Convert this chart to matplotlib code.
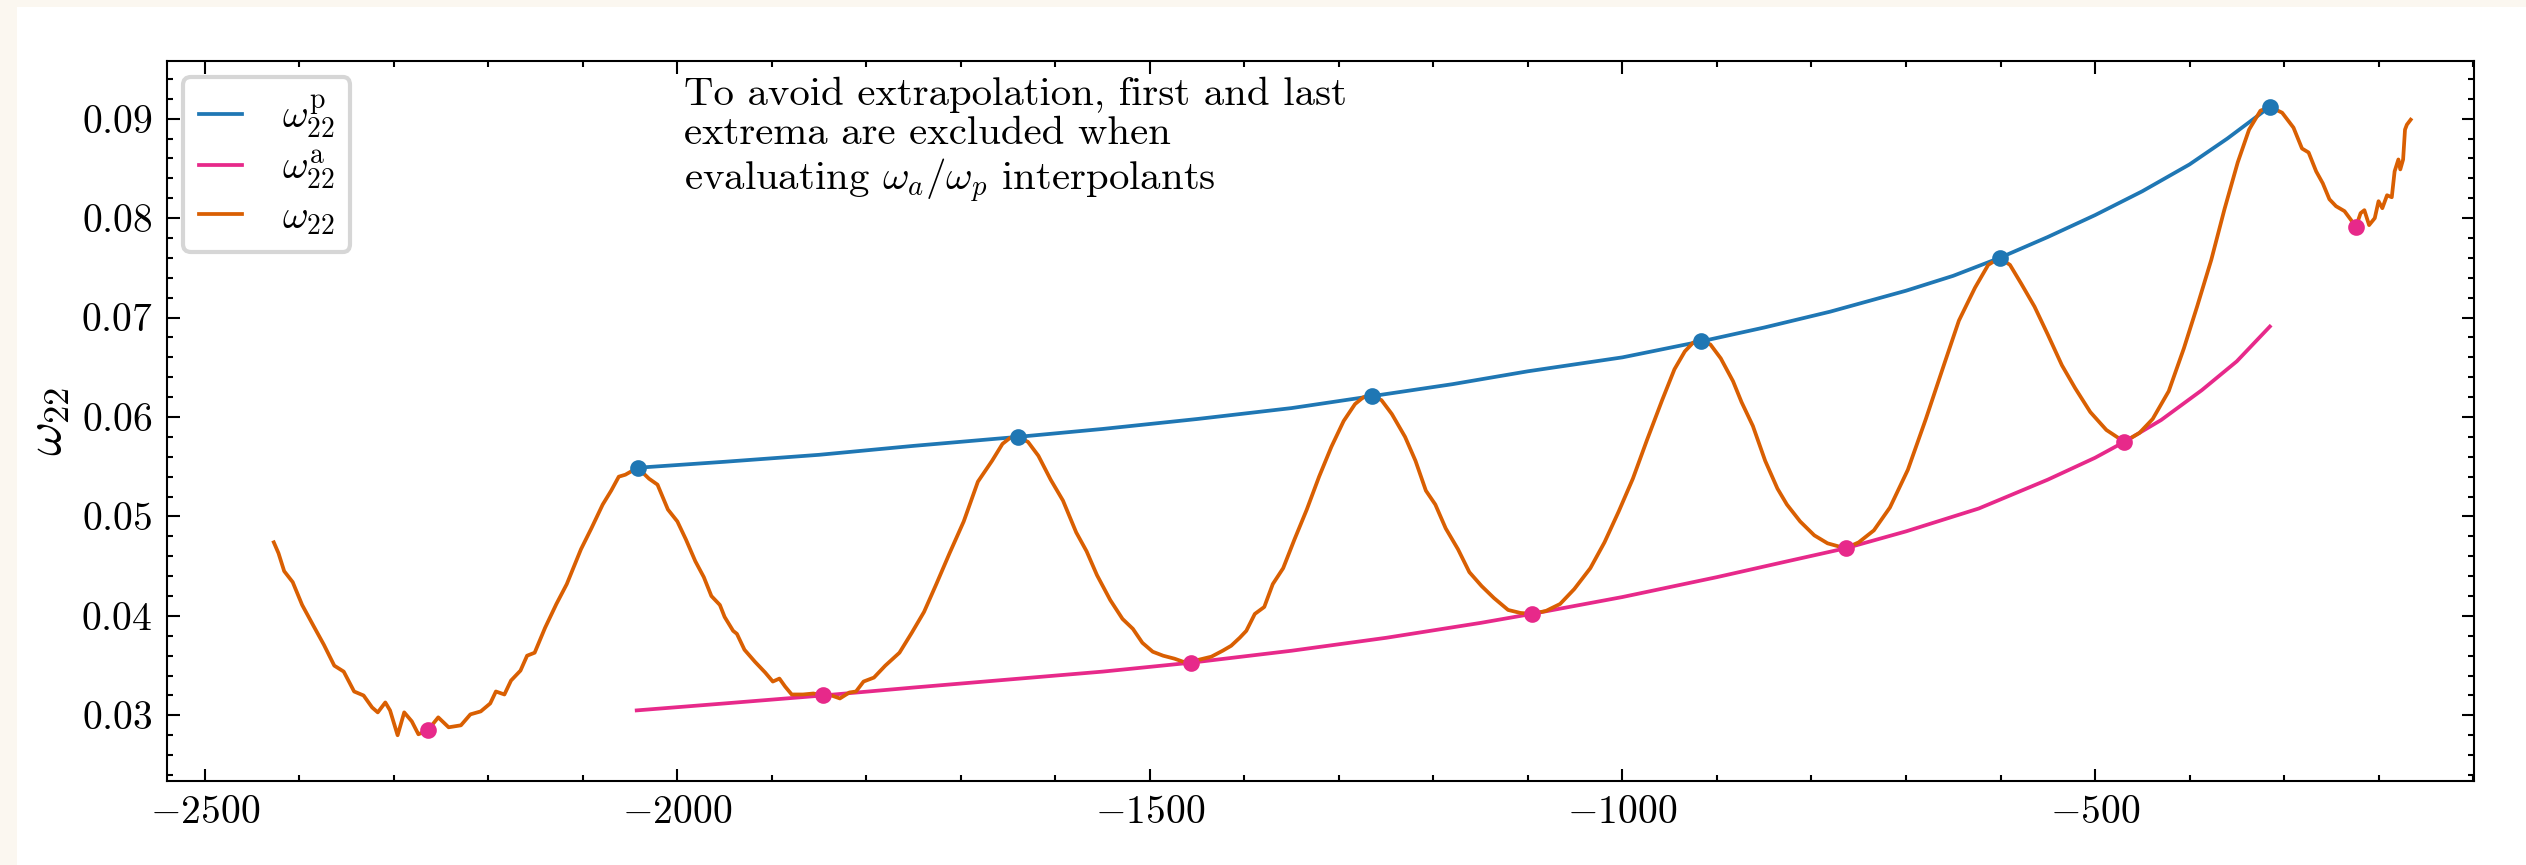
import matplotlib
matplotlib.use("Agg")
import matplotlib.pyplot as plt
from matplotlib.patches import Rectangle
from matplotlib.ticker import MultipleLocator

plt.rcParams.update({
    "font.family": "serif",
    "font.serif": ["cmr10"],
    "mathtext.fontset": "cm",
    "axes.formatter.use_mathtext": True,
    "font.size": 9.5,
    "axes.linewidth": 0.5,
    "xtick.direction": "in",
    "ytick.direction": "in",
    "xtick.top": True,
    "ytick.right": True,
    "xtick.major.size": 3,
    "ytick.major.size": 3,
    "xtick.minor.size": 1.5,
    "ytick.minor.size": 1.5,
    "xtick.major.width": 0.5,
    "ytick.major.width": 0.5,
    "xtick.minor.width": 0.5,
    "ytick.minor.width": 0.5,
    "xtick.minor.visible": True,
    "ytick.minor.visible": True,
})

# ---- data ----
t_omega = [-2427, -2422, -2416, -2407, -2397, -2385, -2374, -2363, -2353, -2342,
           -2332, -2323, -2317, -2309, -2304, -2296, -2289, -2281, -2274, -2264,
           -2253, -2242, -2229, -2219, -2208, -2198, -2192, -2183, -2176, -2166,
           -2159, -2151, -2140, -2128, -2117, -2102, -2091, -2079, -2070, -2062,
           -2055, -2042, -2030, -2021, -2010, -2000, -1991, -1981, -1972, -1964,
           -1955, -1950, -1941, -1937, -1929, -1918, -1907, -1899, -1892, -1886,
           -1879, -1867, -1856, -1846, -1837, -1828, -1818, -1811, -1803, -1792,
           -1780, -1765, -1752, -1739, -1726, -1712, -1697, -1682, -1667, -1656,
           -1648, -1640, -1629, -1618, -1605, -1592, -1578, -1567, -1556, -1542,
           -1529, -1518, -1508, -1497, -1486, -1474, -1465, -1456, -1448, -1435,
           -1423, -1414, -1405, -1398, -1389, -1379, -1370, -1359, -1347, -1334,
           -1321, -1308, -1295, -1283, -1274, -1265, -1255, -1244, -1230, -1219,
           -1208, -1198, -1187, -1174, -1162, -1149, -1136, -1121, -1108, -1096,
           -1081, -1066, -1051, -1034, -1019, -1004, -989, -974, -958, -945,
           -934, -925, -917, -907, -896, -883, -874, -862, -849, -836,
           -826, -812, -797, -783, -764, -750, -734, -717, -698, -679,
           -660, -644, -627, -613, -601, -590, -578, -564, -550, -535,
           -521, -505, -488, -469, -453, -439, -422, -406, -392, -377,
           -363, -349, -337, -325, -315, -302, -290, -281, -274, -266,
           -259, -252, -245, -236, -229, -224, -219, -215, -210, -204,
           -200, -196, -191, -186, -183, -179, -177, -174, -172, -170, -166]
omega22 = [0.0474, 0.0463, 0.0445, 0.0434, 0.0411, 0.0390, 0.0371, 0.0350, 0.0344, 0.0324,
           0.0320, 0.0308, 0.0303, 0.0313, 0.0305, 0.0280, 0.0303, 0.0294, 0.0281, 0.0285,
           0.0298, 0.0288, 0.0290, 0.0301, 0.0304, 0.0312, 0.0324, 0.0321, 0.0335, 0.0345,
           0.0360, 0.0363, 0.0388, 0.0412, 0.0432, 0.0467, 0.0488, 0.0512, 0.0526, 0.0540,
           0.0542, 0.0549, 0.0538, 0.0532, 0.0507, 0.0495, 0.0477, 0.0455, 0.0439, 0.0420,
           0.0411, 0.0399, 0.0385, 0.0382, 0.0366, 0.0354, 0.0343, 0.0334, 0.0337, 0.0329,
           0.0321, 0.0321, 0.0322, 0.0320, 0.0320, 0.0317, 0.0323, 0.0324, 0.0334, 0.0338,
           0.0350, 0.0363, 0.0383, 0.0404, 0.0432, 0.0463, 0.0495, 0.0535, 0.0556, 0.0573,
           0.0579, 0.0580, 0.0575, 0.0561, 0.0537, 0.0516, 0.0484, 0.0465, 0.0441, 0.0416,
           0.0397, 0.0387, 0.0373, 0.0364, 0.0360, 0.0357, 0.0354, 0.0353, 0.0356, 0.0359,
           0.0365, 0.0370, 0.0378, 0.0385, 0.0402, 0.0409, 0.0432, 0.0448, 0.0477, 0.0507,
           0.0540, 0.0570, 0.0596, 0.0613, 0.0620, 0.0621, 0.0617, 0.0603, 0.0580, 0.0556,
           0.0526, 0.0512, 0.0488, 0.0467, 0.0444, 0.0430, 0.0418, 0.0406, 0.0403, 0.0402,
           0.0405, 0.0412, 0.0427, 0.0448, 0.0474, 0.0505, 0.0538, 0.0577, 0.0617, 0.0648,
           0.0666, 0.0675, 0.0676, 0.0673, 0.0659, 0.0636, 0.0615, 0.0591, 0.0556, 0.0528,
           0.0512, 0.0495, 0.0481, 0.0473, 0.0468, 0.0474, 0.0486, 0.0509, 0.0547, 0.0598,
           0.0652, 0.0697, 0.0730, 0.0753, 0.0760, 0.0753, 0.0734, 0.0711, 0.0683, 0.0652,
           0.0629, 0.0605, 0.0587, 0.0575, 0.0584, 0.0598, 0.0626, 0.0669, 0.0711, 0.0758,
           0.0809, 0.0856, 0.0889, 0.0908, 0.0912, 0.0906, 0.0891, 0.0870, 0.0866, 0.0847,
           0.0835, 0.0819, 0.0812, 0.0807, 0.0798, 0.0791, 0.0805, 0.0808, 0.0793, 0.0800,
           0.0817, 0.0810, 0.0823, 0.0821, 0.0847, 0.0859, 0.0849, 0.0859, 0.0889, 0.0894, 0.0899]

# pericenter (peaks) and apocenter (troughs) markers
t_peri = [-2042, -1640, -1265, -917, -601, -315]
omega_peri = [0.0549, 0.0580, 0.0621, 0.0676, 0.0760, 0.0912]
t_apo = [-2264, -1846, -1456, -1096, -764, -469, -224]
omega_apo = [0.0285, 0.0320, 0.0353, 0.0402, 0.0468, 0.0575, 0.0791]

# interpolants
t_interp_p = [-2042, -1950, -1850, -1750, -1640, -1550, -1450, -1350, -1265, -1180,
              -1100, -1000, -917, -850, -780, -700, -650, -601, -550, -500,
              -450, -400, -360, -315]
omega_interp_p = [0.0549, 0.0555, 0.0562, 0.0571, 0.0580, 0.0588, 0.0598, 0.0609, 0.0621, 0.0633,
                  0.0646, 0.0660, 0.0676, 0.0690, 0.0706, 0.0727, 0.0742, 0.0760, 0.0781, 0.0803,
                  0.0827, 0.0854, 0.0880, 0.0912]
t_interp_a = [-2043, -1950, -1846, -1750, -1650, -1550, -1456, -1350, -1250, -1150,
              -1096, -1000, -900, -830, -764, -700, -623, -550, -500, -469,
              -430, -387, -350, -315]
omega_interp_a = [0.0305, 0.0312, 0.0320, 0.0328, 0.0336, 0.0344, 0.0353, 0.0365, 0.0378, 0.0393,
                  0.0402, 0.0419, 0.0439, 0.0454, 0.0468, 0.0485, 0.0508, 0.0537, 0.0559, 0.0575,
                  0.0597, 0.0627, 0.0656, 0.0691]

labels = [r"$\omega_{22}^{\rm p}$", r"$\omega_{22}^{\rm a}$", r"$\omega_{22}$"]
note = ("To avoid extrapolation, first and last\n"
        "extrema are excluded when\n"
        r"evaluating $\omega_a/\omega_p$ interpolants")

c_blue = "#1f77b4"
c_pink = "#e7298a"
c_orange = "#d95f02"

W, H, DPI = 2526, 865, 300
fig = plt.figure(figsize=(W / DPI, H / DPI), dpi=DPI, facecolor="#FBF7F0")
fig.patches.append(Rectangle((17 / W, 0), 1 - 17 / W, 1 - 7 / H, transform=fig.transFigure,
                             facecolor="white", edgecolor="none", zorder=-10))
ax = fig.add_axes([167 / W, (H - 781) / H, (2474 - 167) / W, (781 - 61) / H])

ax.plot(t_interp_p, omega_interp_p, color=c_blue, lw=0.9, label=labels[0])
ax.plot(t_interp_a, omega_interp_a, color=c_pink, lw=0.9, label=labels[1])
ax.plot(t_omega, omega22, color=c_orange, lw=0.9, label=labels[2])
ax.plot(t_peri, omega_peri, "o", color=c_blue, ms=3, zorder=5)
ax.plot(t_apo, omega_apo, "o", color=c_pink, ms=3, zorder=5)

ax.set_xlim(-2540, -99)
ax.set_ylim(0.0234, 0.0958)
ax.xaxis.set_major_locator(MultipleLocator(500))
ax.xaxis.set_minor_locator(MultipleLocator(100))
ax.yaxis.set_major_locator(MultipleLocator(0.01))
ax.yaxis.set_minor_locator(MultipleLocator(0.002))

ax.set_ylabel(r"$\omega_{22}$", fontsize=12.5, labelpad=2)

ax.legend(loc="upper left", handlelength=1.1, borderaxespad=0.4, fontsize=9.5,
          labelspacing=0.2, handletextpad=1.0)
ax.text(0.224, 0.978, note, transform=ax.transAxes, ha="left", va="top",
        fontsize=9.8, linespacing=1.12)

fig.savefig("out.png", dpi=DPI, facecolor=fig.get_facecolor())
